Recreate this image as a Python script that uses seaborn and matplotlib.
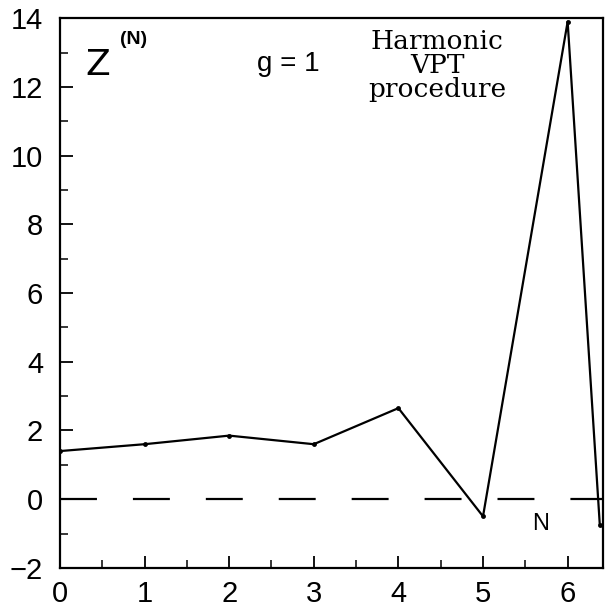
import matplotlib
matplotlib.use("Agg")
import matplotlib.pyplot as plt
import seaborn as sns
import pandas as pd
from matplotlib.ticker import MultipleLocator

sns.set_theme(style="white")
plt.rcParams['font.family'] = ['Liberation Sans', 'DejaVu Sans']
plt.rcParams['lines.scale_dashes'] = False

N_values = [0, 1, 2, 3, 4, 5, 6, 6.38]
Z_values = [1.4, 1.6, 1.85, 1.6, 2.65, -0.5, 13.9, -0.75]
x_ticks = [0, 1, 2, 3, 4, 5, 6]
y_ticks = [-2, 0, 2, 4, 6, 8, 10, 12, 14]

df = pd.DataFrame({"N": N_values, "Z": Z_values})

fig = plt.figure(figsize=(6.05, 6.08), dpi=100)
ax = fig.add_axes([0.099, 0.066, 0.898, 0.904])

sns.lineplot(data=df, x="N", y="Z", ax=ax, color="black", linewidth=1.6,
             marker="o", markersize=3.5, markeredgewidth=0, sort=False)
ax.axhline(0, color="black", linewidth=1.6, dashes=(26.6, 25.9))

ax.set_xlim(0, 6.42)
ax.set_ylim(-2, 14)
ax.set_xticks(x_ticks)
ax.set_yticks(y_ticks)
ax.set_yticklabels([str(v).replace('-', '\u2212') for v in y_ticks])
ax.xaxis.set_minor_locator(MultipleLocator(0.5))
ax.yaxis.set_minor_locator(MultipleLocator(1))
ax.tick_params(which='major', direction='in', length=9, width=1.3, labelsize=21,
               colors='black', bottom=True, left=True, top=False, right=False)
ax.tick_params(axis='y', which='major', pad=12)
ax.tick_params(axis='x', which='major', pad=9)
ax.tick_params(which='minor', direction='in', length=6, width=1.3,
               bottom=True, left=True, top=False, right=False)
ax.set_xlabel("")
ax.set_ylabel("")
for s in ax.spines.values():
    s.set_color("black")
    s.set_linewidth(1.6)

ax.text(0.3, 12.35, "Z", fontsize=26, color="black", family=['DejaVu Sans'])
ax.text(0.71, 13.62, "(N)", fontsize=14, color="black", fontweight='bold', va='top')
ax.text(2.33, 12.45, "g = 1", fontsize=20, color="black")
ax.text(4.46, 13.68, "Harmonic\nVPT\nprocedure", fontsize=19, color="black",
        family=['DejaVu Serif'], linespacing=0.95, va='top', ha='center',
        multialignment='center')
ax.text(5.68, -0.73, "N", fontsize=17, color="black", ha='center', va='center')

fig.savefig("out.png", dpi=100)
